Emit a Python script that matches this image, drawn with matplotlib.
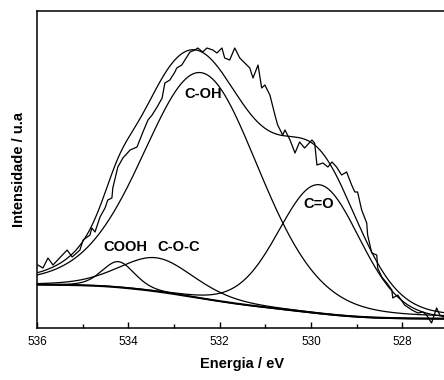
import numpy as np
import matplotlib
matplotlib.use("Agg")
import matplotlib.pyplot as plt
from matplotlib.ticker import MultipleLocator

plt.rcParams['font.family'] = ['Liberation Sans', 'DejaVu Sans']

energy = [535.98, 535.87, 535.76, 535.65, 535.34, 535.23, 535.06, 534.99, 534.84, 534.80,
          534.73, 534.62, 534.51, 534.45, 534.36, 534.34, 534.23, 534.18, 534.12, 533.96,
          533.81, 533.68, 533.57, 533.48, 533.37, 533.26, 533.20, 533.09, 532.98, 532.94,
          532.83, 532.72, 532.65, 532.54, 532.48, 532.37, 532.28, 532.15, 532.06, 531.95,
          531.89, 531.78, 531.67, 531.56, 531.45, 531.34, 531.27, 531.16, 531.08, 531.01,
          530.90, 530.79, 530.73, 530.62, 530.57, 530.46, 530.35, 530.25, 530.14, 529.98,
          529.92, 529.87, 529.74, 529.63, 529.54, 529.44, 529.33, 529.22, 529.11, 529.04,
          528.98, 528.89, 528.78, 528.76, 528.67, 528.56, 528.54, 528.45, 528.34, 528.23,
          528.21, 528.10, 527.95, 527.79, 527.66, 527.55, 527.47, 527.36, 527.25, 527.18,
          527.09]
intensity = [63, 60, 70, 63, 78, 71, 78, 88, 93, 100,
             96, 111, 120, 128, 130, 140, 161, 165, 170, 178,
             181, 196, 208, 213, 221, 230, 245, 248, 256, 260,
             263, 271, 276, 278, 280, 276, 280, 278, 275, 280,
             270, 268, 280, 270, 265, 260, 250, 263, 240, 243,
             233, 213, 203, 193, 198, 188, 175, 186, 180, 188,
             185, 163, 165, 161, 166, 161, 153, 156, 143, 136,
             136, 118, 105, 93, 75, 73, 60, 51, 45, 38,
             30, 33, 23, 18, 15, 16, 13, 5, 20, 13,
             11]

# ---- fitted components (pseudo-Voigt) ----
peak_names = ["C-OH", "C=O", "COOH", "C-O-C"]
peak_centers = [532.40, 529.82, 534.22, 533.38]
peak_heights = [226, 129, 26, 34]
peak_fwhm = [3.0, 2.1, 0.85, 1.95]
peak_eta = [0.2, 0.1, 0.3, 0.3]

# Shirley background end levels
bg_low = 9
bg_high = 43

# label positions (energy, intensity)
label_x = [532.37, 529.83, 534.07, 532.89]
label_y = [234, 124, 81, 81]


def pvoigt(x, c, h, w, eta):
    g = np.exp(-4 * np.log(2) * (x - c) ** 2 / w ** 2)
    lo = 1.0 / (1.0 + 4 * (x - c) ** 2 / w ** 2)
    return h * ((1 - eta) * g + eta * lo)


grid = np.linspace(527.0, 536.0, 900)
comps = [pvoigt(grid, c, h, w, e) for c, h, w, e in
         zip(peak_centers, peak_heights, peak_fwhm, peak_eta)]
total = np.sum(comps, axis=0)
cum = np.concatenate([[0], np.cumsum((total[1:] + total[:-1]) / 2 * np.diff(grid))])
bg = bg_low + (bg_high - bg_low) * cum / cum[-1]

fig = plt.figure(figsize=(4.44, 3.80), dpi=100)
ax = fig.add_axes([37 / 444, 52 / 380, 411 / 444, 317 / 380])

lw = 0.9
ax.plot(energy, intensity, color='black', lw=lw)
ax.plot(grid, total + bg, color='black', lw=lw)
for comp in comps:
    ax.plot(grid, comp + bg, color='black', lw=lw)
ax.plot(grid, bg, color='black', lw=lw)
ax.plot(grid, bg + 0.8, color='black', lw=lw)

for name, lx, ly in zip(peak_names, label_x, label_y):
    ax.text(lx, ly, name, ha='center', va='center', fontsize=10.5, fontweight='bold')

ax.set_xlim(536, 527.0)
ax.set_ylim(0, 317)
ax.xaxis.set_major_locator(MultipleLocator(2))
ax.xaxis.set_minor_locator(MultipleLocator(1))
ax.tick_params(axis='x', which='major', direction='in', length=4, width=1, labelsize=8.5, pad=6)
ax.tick_params(axis='x', which='minor', direction='in', length=3, width=1)
ax.tick_params(axis='x', top=False, which='both')
ax.set_yticks([])
for s in ax.spines.values():
    s.set_linewidth(1.1)

ax.set_xlabel("Energia / eV", fontsize=10.5, fontweight='bold', labelpad=6)
ax.set_ylabel("Intensidade / u.a", fontsize=10.5, fontweight='bold', labelpad=8)

fig.savefig("out.png", dpi=100)
